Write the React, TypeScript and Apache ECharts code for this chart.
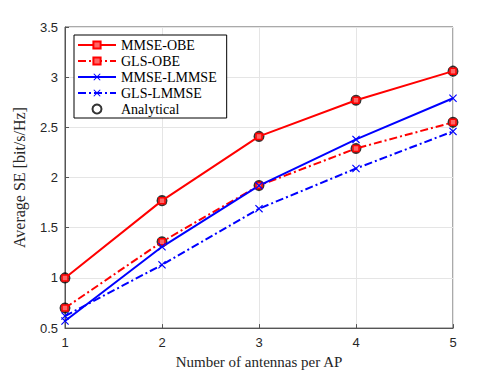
import React, { useEffect, useRef } from "react";
import * as echarts from "echarts";

const antennas = [1, 2, 3, 4, 5];
const mmseObe = [1.0, 1.77, 2.41, 2.77, 3.06];
const glsObe = [0.7, 1.36, 1.92, 2.29, 2.55];
const mmseLmmse = [0.57, 1.31, 1.92, 2.38, 2.79];
const glsLmmse = [0.62, 1.13, 1.69, 2.09, 2.46];
const analyticalA = mmseObe;
const analyticalB = glsObe;
const legendNames = ["MMSE-OBE", "GLS-OBE", "MMSE-LMMSE", "GLS-LMMSE", "Analytical"];

const X_PATH = "path://M0,1L1,0L5,4L9,0L10,1L6,5L10,9L9,10L5,6L1,10L0,9L4,5Z";
const SERIF = "Liberation Serif";
const SANS = "Liberation Sans";

function pairs(ys: number[]) {
  return antennas.map((x, i) => [x, ys[i]]);
}

export default function App() {
  const ref = useRef<HTMLDivElement>(null);
  useEffect(() => {
    if (!ref.current) return;
    const chart = echarts.init(ref.current, undefined, { renderer: "svg" });
    const dashDot = [8, 3, 2, 3];
    const legendText = { fontFamily: SERIF, fontSize: 14, color: "#000" };
    chart.setOption({
      animation: false,
      backgroundColor: "#ffffff",
      textStyle: { fontFamily: SANS },
      grid: {
        left: 65,
        right: 46,
        top: 27,
        bottom: 43,
        show: true,
        borderColor: "#555",
        borderWidth: 1,
        backgroundColor: "transparent",
      },
      legend: {
        orient: "vertical",
        left: 74,
        top: 35,
        itemWidth: 38,
        itemHeight: 9,
        itemGap: 2,
        padding: [3, 10, 2, 3],
        backgroundColor: "#fff",
        borderColor: "#000",
        borderWidth: 1,
        borderRadius: 0,
        textStyle: legendText,
        data: legendNames.map((n) => ({ name: n, textStyle: legendText })),
      },
      xAxis: {
        type: "value",
        min: 1,
        max: 5,
        interval: 1,
        name: "Number of antennas per AP",
        nameLocation: "middle",
        nameGap: 23,
        nameTextStyle: { fontFamily: SERIF, fontSize: 15, color: "#262626" },
        axisLine: { show: true, lineStyle: { color: "#555", width: 1 } },
        axisTick: { show: true, inside: true, length: 4, lineStyle: { color: "#555" } },
        axisLabel: { fontFamily: SANS, fontSize: 13, color: "#262626", margin: 8 },
        splitLine: { show: true, lineStyle: { color: "#e5e5e5", width: 1 } },
      },
      yAxis: {
        type: "value",
        min: 0.5,
        max: 3.5,
        interval: 0.5,
        name: "Average SE [bit/s/Hz]",
        nameLocation: "middle",
        nameGap: 38,
        nameTextStyle: { fontFamily: SERIF, fontSize: 16, color: "#262626" },
        axisLine: { show: true, lineStyle: { color: "#555", width: 1 } },
        axisTick: { show: true, inside: true, length: 4, lineStyle: { color: "#555" } },
        axisLabel: { fontFamily: SANS, fontSize: 13, color: "#262626", margin: 7 },
        splitLine: { show: true, lineStyle: { color: "#e5e5e5", width: 1 } },
      },
      series: [
        {
          name: "MMSE-OBE",
          type: "line",
          data: pairs(mmseObe),
          symbol: "rect",
          symbolSize: 6,
          lineStyle: { color: "#ff0000", width: 2, type: "solid" },
          itemStyle: { color: "#ff6666", borderColor: "#ff0000", borderWidth: 1.5 },
        },
        {
          name: "GLS-OBE",
          type: "line",
          data: pairs(glsObe),
          symbol: "rect",
          symbolSize: 6,
          lineStyle: { color: "#ff0000", width: 2, type: dashDot },
          itemStyle: { color: "#ff6666", borderColor: "#ff0000", borderWidth: 1.5 },
        },
        {
          name: "MMSE-LMMSE",
          type: "line",
          data: pairs(mmseLmmse),
          symbol: X_PATH,
          symbolSize: 8,
          lineStyle: { color: "#0000ff", width: 2, type: "solid" },
          itemStyle: { color: "#0000ff", borderWidth: 0 },
        },
        {
          name: "GLS-LMMSE",
          type: "line",
          data: pairs(glsLmmse),
          symbol: X_PATH,
          symbolSize: 8,
          lineStyle: { color: "#0000ff", width: 2, type: dashDot },
          itemStyle: { color: "#0000ff", borderWidth: 0 },
        },
        {
          name: "Analytical",
          type: "scatter",
          data: pairs(analyticalA),
          symbol: "circle",
          symbolSize: 9,
          itemStyle: { color: "rgba(0,0,0,0)", borderColor: "#000", borderWidth: 2 },
        },
        {
          name: "Analytical",
          type: "scatter",
          data: pairs(analyticalB),
          symbol: "circle",
          symbolSize: 9,
          itemStyle: { color: "rgba(0,0,0,0)", borderColor: "#000", borderWidth: 2 },
        },
      ],
    });
    return () => chart.dispose();
  }, []);
  return <div ref={ref} style={{ width: 499, height: 374, position: "absolute", left: 0, top: 0 }} />;
}
